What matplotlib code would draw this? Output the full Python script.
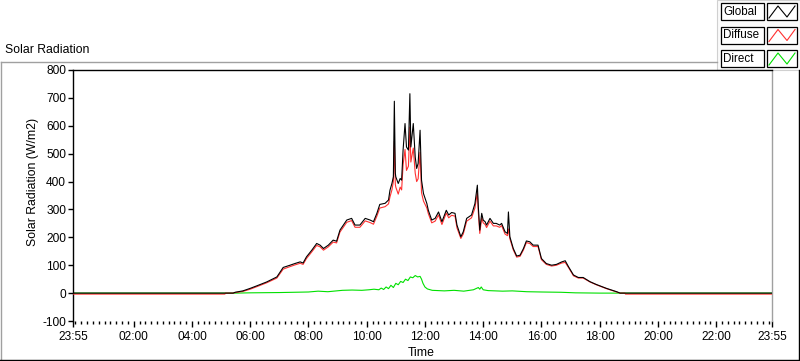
import matplotlib
matplotlib.use("Agg")
import matplotlib.pyplot as plt
from matplotlib.patches import Rectangle
from matplotlib.ticker import FixedLocator

plt.rcParams['font.family'] = ['Liberation Sans', 'DejaVu Sans']

# ---- data (minutes since midnight; -5 = 23:55 of previous day) ----
gd_minutes = [-5, 308, 309, 325, 329, 345, 360, 375, 394, 415, 428, 442, 452, 463, 469, 476,
              487, 497, 504, 511, 521, 531, 538, 545, 559, 569, 576, 586, 597, 607, 614,
              621, 627, 638, 645, 648, 652, 655, 657, 659, 660, 665, 669, 672, 675, 679,
              682, 686, 689, 691, 696, 700, 703, 706, 710, 713, 717, 724, 727, 734, 741,
              748, 755, 764, 769, 775, 782, 786, 794, 799, 806, 816, 823, 828, 830, 833,
              837, 840, 844, 847, 854, 861, 867, 874, 878, 885, 890, 892, 895, 902, 909,
              916, 923, 929, 936, 943, 953, 960, 970, 981, 991, 1002, 1009, 1016, 1026,
              1036, 1046, 1060, 1073, 1094, 1115, 1122, 1132, 1133, 1435]
global_vals = [0, 0, 0, 0, 3, 8, 17, 27, 40, 58, 92, 100, 106, 112, 108, 130,
               154, 178, 172, 160, 172, 190, 186, 226, 262, 268, 244, 244, 268, 262, 256,
               286, 318, 322, 334, 369, 393, 417, 688, 430, 417, 393, 411, 405, 513, 608,
               524, 513, 715, 524, 608, 488, 447, 465, 584, 405, 357, 321, 297, 262, 268,
               291, 256, 297, 280, 289, 286, 244, 202, 220, 268, 280, 321, 387, 309, 226,
               286, 262, 256, 244, 268, 250, 250, 244, 250, 220, 214, 291, 202, 160, 133,
               136, 160, 187, 184, 172, 172, 124, 106, 100, 103, 112, 116, 94, 65,
               56, 56, 41, 31, 17, 5, 0, 0, 0, 0]
diffuse_vals = [-3.5, -3.5, 0, 0, 2, 6, 14, 24, 37, 54, 86, 95, 101, 107, 103, 124,
                148, 171, 166, 154, 166, 183, 180, 219, 254, 260, 236, 236, 259, 253, 247,
                276, 305, 310, 320, 345, 370, 400, 545, 390, 380, 355, 380, 370, 460, 515,
                440, 455, 595, 470, 520, 430, 400, 410, 505, 360, 330, 305, 285, 252, 258,
                280, 246, 287, 270, 279, 276, 234, 196, 212, 258, 270, 305, 360, 290, 214,
                270, 252, 246, 235, 258, 241, 241, 236, 242, 212, 206, 230, 195, 155, 129,
                132, 155, 181, 178, 167, 167, 120, 103, 97, 100, 108, 110, 91, 62,
                54, 54, 40, 30, 16, 4, 0, 0, -3.5, -3.5]

direct_minutes = [-5, 330, 360, 420, 480, 500, 520, 550, 570, 590, 605, 615, 625, 630, 635,
                  640, 645, 650, 655, 660, 665, 670, 675, 680, 685, 690, 695, 700, 705, 710,
                  713, 716, 720, 725, 735, 760, 780, 800, 820, 830, 833, 836, 840, 850, 880,
                  900, 930, 960, 1000, 1030, 1080, 1435]
direct_vals = [0, 0, 1, 2, 4, 7, 5, 10, 11, 10, 12, 14, 12, 18, 13,
               22, 16, 28, 20, 35, 30, 42, 38, 50, 45, 58, 55, 63, 58, 60,
               50, 35, 22, 15, 10, 8, 10, 7, 12, 20, 14, 22, 12, 9, 7,
               8, 5, 4, 3, 1, 0, 0]

x_tick_minutes = [-5, 120, 240, 360, 480, 600, 720, 840, 960, 1080, 1200, 1320, 1435]
x_tick_labels = ["23:55", "02:00", "04:00", "06:00", "08:00", "10:00", "12:00",
                 "14:00", "16:00", "18:00", "20:00", "22:00", "23:55"]
y_ticks = [-100, 0, 100, 200, 300, 400, 500, 600, 700, 800]
series_names = ["Global", "Diffuse", "Direct"]
series_colors = ["#000000", "#FF3030", "#00E000"]

W, H = 800, 361
fig = plt.figure(figsize=(W / 100, H / 100), dpi=100)
fig.patch.set_facecolor("white")

# overlay for frames / legend (pixel coords)
ov = fig.add_axes([0, 0, 1, 1], zorder=0)
ov.set_xlim(0, W)
ov.set_ylim(H, 0)
ov.axis("off")

L, R, T, B = 73, 772, 70, 321
ax = fig.add_axes([L / W, (H - B) / H, (R - L) / W, (B - T) / H], zorder=2)
ax.set_facecolor("white")

ax.plot(direct_minutes, direct_vals, color=series_colors[2], lw=0.8, zorder=2)
ax.plot(gd_minutes, diffuse_vals, color=series_colors[1], lw=0.8, zorder=3)
ax.plot(gd_minutes, global_vals, color=series_colors[0], lw=0.8, zorder=4)

ax.set_xlim(-5, 1435)
ax.set_ylim(-100, 800)
ax.xaxis.set_major_locator(FixedLocator(x_tick_minutes))
ax.set_xticklabels(x_tick_labels)
ax.xaxis.set_minor_locator(FixedLocator(list(range(0, 1435, 12))))
ax.set_yticks(y_ticks)
ax.set_yticklabels([str(v) for v in y_ticks])

ax.tick_params(axis="x", which="major", direction="out", length=4, width=1, pad=3.5,
               labelsize=8.6, colors="black")
ax.tick_params(axis="x", which="minor", direction="out", length=2.5, width=1)
ax.tick_params(axis="y", which="major", direction="out", length=3.5, width=1, pad=1.5,
               labelsize=8.6, colors="black")

for s in ["left", "top"]:
    ax.spines[s].set_color("black")
    ax.spines[s].set_linewidth(1)
ax.spines["right"].set_color("#A0A0A0")
ax.spines["right"].set_linewidth(1)
ax.spines["bottom"].set_visible(False)

# outer frame
ov.plot([0.5, 717], [62, 62], color="#A0A0A0", lw=1)
ov.plot([0.5, 0.5], [62, 360], color="#A0A0A0", lw=1)
ov.plot([0, 800], [359.5, 359.5], color="black", lw=1)
ov.plot([799, 799], [70, 360], color="black", lw=1)

ov.text(5, 50, "Solar Radiation", fontsize=8.8, ha="left", va="center")
ov.text(33, 182, "Solar Radiation (W/m2)", fontsize=8.8, ha="center", va="center", rotation=90)
ov.text(421, 353, "Time", fontsize=8.8, ha="center", va="center")

# legend
ov.add_patch(Rectangle((717, 0), 83, 70, facecolor="#FAFAFA", edgecolor="#D0D0D0", lw=0.8))
row_tops = [3, 26.5, 50]
for name, color, top in zip(series_names, series_colors, row_tops):
    ov.add_patch(Rectangle((720.5, top), 43, 17, facecolor="white", edgecolor="black", lw=0.9))
    ov.text(723, top + 9, name, fontsize=8.4, ha="left", va="center")
    ov.add_patch(Rectangle((767, top), 30, 17, facecolor="white", edgecolor="black", lw=0.9))
    ov.plot([769, 778, 787, 795], [top + 15, top + 3, top + 14, top + 3], color=color, lw=0.8)

fig.savefig("out.png", dpi=100, facecolor="white")
